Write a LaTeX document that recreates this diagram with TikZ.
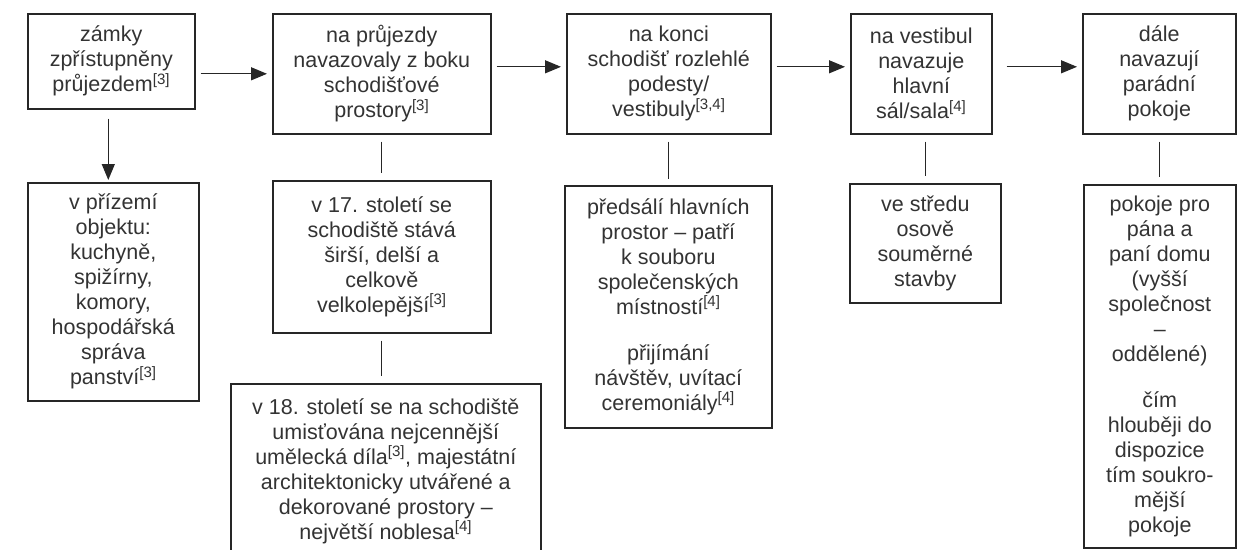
\documentclass[tikz,border=0pt]{standalone}
\usepackage{fontspec}
\setmainfont{Liberation Sans}
\usepackage{xcolor}
\usepackage{tikz}
\usetikzlibrary{arrows.meta}
\definecolor{ink}{HTML}{262626}
\definecolor{txt}{HTML}{333333}

\begin{document}
\begin{tikzpicture}[
  x=1pt,y=-1pt,
  box/.style={draw=ink,line width=1.6pt,align=center,text=txt,inner sep=0pt,anchor=north west,font=\fontsize{21.5}{25}\selectfont},
  arrow/.style={-{Triangle[length=16pt,width=13pt]},line width=1.2pt,draw=ink,shorten <=5pt,shorten >=5pt},
  link/.style={line width=1pt,draw=ink,shorten <=7pt,shorten >=7pt}
]
\useasboundingbox (0,0) rectangle (1242,549);
\clip (0,0) rectangle (1242,549);
% upper row
\node[box,minimum width=167pt,minimum height=95pt] (zam) at (27,13) {zámky\\zpřístupněny\\průjezdem\textsuperscript{[3]}};
\node[box,minimum width=218pt,minimum height=120pt] (pru) at (272,13) {na průjezdy\\navazovaly z boku\\schodišťové\\prostory\textsuperscript{[3]}};
\node[box,minimum width=204pt,minimum height=120pt] (kon) at (566,13) {na konci\\schodišť rozlehlé\\podesty/\\vestibuly\textsuperscript{[3,4]}};
\node[box,minimum width=141pt,minimum height=120pt] (ves) at (850,13) {na vestibul\\navazuje\\hlavní\\sál/sala\textsuperscript{[4]}};
\node[box,minimum width=153pt,minimum height=120pt] (dal) at (1082,13) {dále\\navazují\\parádní\\pokoje};
% lower row
\node[box,minimum width=171pt,minimum height=218pt] (pri) at (27,182) {v přízemí\\objektu:\\kuchyně,\\spižírny,\\komory,\\hospodářská\\správa\\panství\textsuperscript{[3]}};
\node[box,minimum width=218pt,minimum height=152pt] (s17) at (272,180) {v 17. století se\\schodiště stává\\širší, delší a\\celkově\\velkolepější\textsuperscript{[3]}};
\node[box,minimum width=310pt,minimum height=175pt] (s18) at (230,383) {v 18. století se na schodiště\\umisťována nejcennější\\umělecká díla\textsuperscript{[3]}, majestátní\\architektonicky utvářené a\\dekorované prostory –\\největší noblesa\textsuperscript{[4]}};
\node[box,minimum width=207pt,minimum height=242pt] (pred) at (564,185) {předsálí hlavních\\prostor – patří\\k souboru\\společenských\\místností\textsuperscript{[4]}\\[21pt]přijímání\\návštěv, uvítací\\ceremoniály\textsuperscript{[4]}};
\node[box,minimum width=151pt,minimum height=119pt] (stred) at (849,183) {ve středu\\osově\\souměrné\\stavby};
\node[box,minimum width=152pt,minimum height=363pt] (pok) at (1083,184) {pokoje pro\\pána a\\paní domu\\(vyšší\\společnost\\–\\oddělené)\\[21pt]čím\\hlouběji do\\dispozice\\tím soukro-\\mější\\pokoje};
% arrows
\draw[arrow] (zam.east |- pru.west) -- (pru.west);
\draw[arrow] ([yshift=7pt]pru.east) -- ([yshift=7pt]kon.west);
\draw[arrow] ([yshift=7pt]kon.east) -- ([yshift=7pt]ves.west);
\draw[arrow,shorten <=14pt] ([yshift=7pt]ves.east) -- ([yshift=7pt]dal.west);
\draw[arrow,shorten <=9pt,shorten >=2pt] ([xshift=-3pt]zam.south) -- ([xshift=-3pt]zam.south |- pri.north);
% links
\draw[link] (pru.south) -- (pru.south |- s17.north);
\draw[link] (s17.south) -- (s17.south |- s18.north);
\draw[link,shorten >=6pt] (kon.south) -- (kon.south |- pred.north);
\draw[link] (stred.north |- ves.south) -- (stred.north);
\draw[link] (dal.south) -- (dal.south |- pok.north);
\end{tikzpicture}
\end{document}
